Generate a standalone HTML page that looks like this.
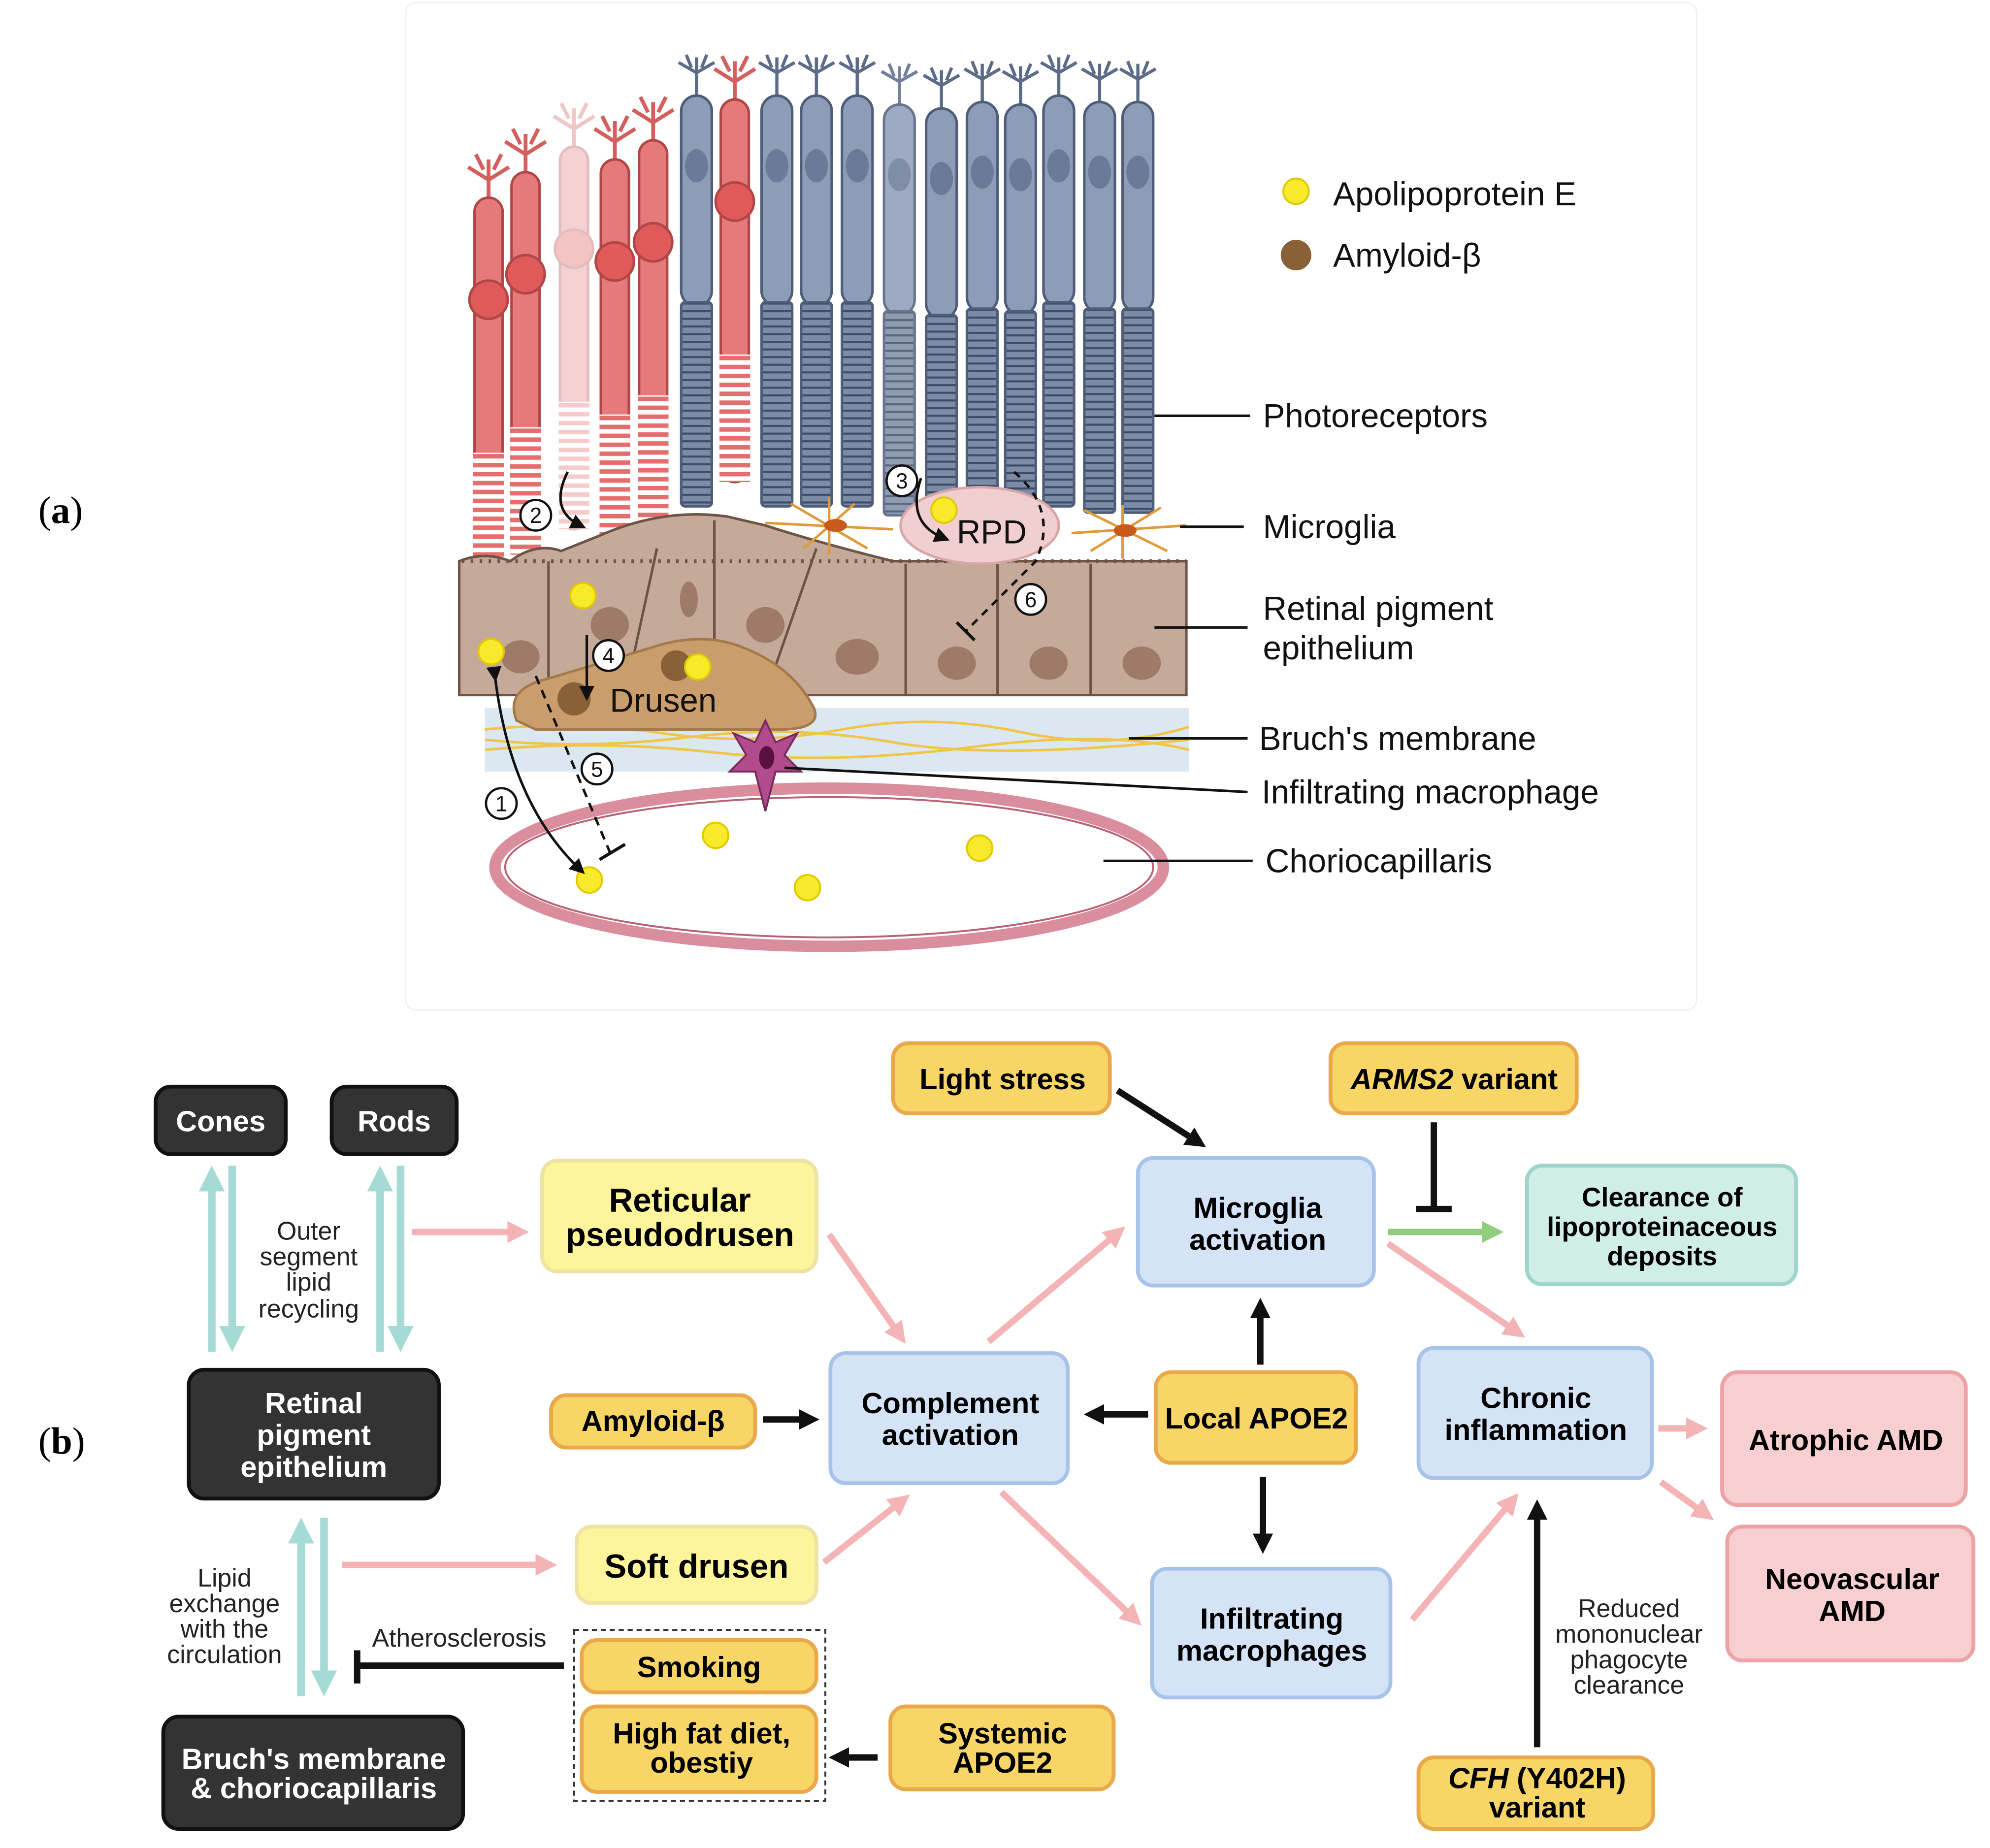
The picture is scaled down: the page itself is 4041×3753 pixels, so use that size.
<!DOCTYPE html>
<html><head><meta charset="utf-8"><style>
html,body{margin:0;padding:0;background:#fff;}
svg{display:block}
text{font-family:"Liberation Sans",Arial,sans-serif;}
.b{font-weight:bold;font-size:23px;text-anchor:middle}
.bw{font-weight:bold;font-size:23px;text-anchor:middle;fill:#fff}
.s{font-size:20px;text-anchor:middle;fill:#222}
.lab{font-size:26px;fill:#111}
</style></head><body>
<svg width="4041" height="3753" viewBox="0 0 1560 1449" preserveAspectRatio="none" xmlns="http://www.w3.org/2000/svg">
<defs>
<pattern id="st" width="6" height="6" patternUnits="userSpaceOnUse"><rect width="6" height="6" fill="#7c8ba6"/><line x1="0" y1="1" x2="6" y2="1" stroke="#3f4c66" stroke-width="1.6"/></pattern>
<pattern id="cs" width="6" height="7" patternUnits="userSpaceOnUse"><rect width="6" height="7" fill="#fff"/><rect y="0" width="6" height="3.5" fill="#e46d6d"/></pattern>
<marker id="mk" viewBox="0 0 10 10" refX="6" refY="5" markerWidth="3.2" markerHeight="3.2" orient="auto-start-reverse"><path d="M0,0L10,5L0,10z" fill="#111"/></marker>
<marker id="mp" viewBox="0 0 10 10" refX="6" refY="5" markerWidth="3.4" markerHeight="3.4" orient="auto-start-reverse"><path d="M0,0L10,5L0,10z" fill="#f4b3b4"/></marker>
<marker id="mt" viewBox="0 0 10 10" refX="6" refY="5" markerWidth="3.4" markerHeight="3.4" orient="auto-start-reverse"><path d="M0,0L10,5L0,10z" fill="#a6dbd5"/></marker>
<marker id="mg" viewBox="0 0 10 10" refX="6" refY="5" markerWidth="3.4" markerHeight="3.4" orient="auto-start-reverse"><path d="M0,0L10,5L0,10z" fill="#8fcc7c"/></marker>
<marker id="ms" viewBox="0 0 10 10" refX="6" refY="5" markerWidth="6" markerHeight="6" orient="auto"><path d="M0,0L10,5L0,10z" fill="#111"/></marker>
<g id="rod">
<path d="M0,0V32M-14,4L0,12L14,4M-8,-2L-4,8M8,-2L4,8" stroke="#5b6b88" stroke-width="2.5" fill="none"/>
<rect x="-12" y="30" width="24" height="165" rx="12" fill="#8d9cb7" stroke="#4f5d78" stroke-width="2"/>
<ellipse cx="0" cy="85" rx="9" ry="13" fill="#6a7a98"/>
<rect x="-12" y="192" width="24" height="160" rx="3" fill="url(#st)" stroke="#4f5d78" stroke-width="2"/>
</g>
<g id="cone">
<path d="M0,0V30M-16,6L0,16L16,6M-10,-4L-4,8M10,-4L4,8" stroke="#d35f5f" stroke-width="3" fill="none"/>
<rect x="-11" y="30" width="22" height="300" rx="11" fill="#e57a7a" stroke="#b04646" stroke-width="2"/>
<circle cx="0" cy="110" r="15" fill="#e05a5a" stroke="#b04646" stroke-width="2"/>
<rect x="-12" y="230" width="24" height="100" fill="url(#cs)"/>
</g>
</defs>
<rect width="1560" height="1449" fill="#fff"/>
<rect x="318" y="2" width="1012" height="790" rx="8" fill="#fff" stroke="#f0f0f0"/>
<text x="30" y="410" style="font-family:'Liberation Serif',serif;font-size:30px">(<tspan font-weight="bold">a</tspan>)</text>
<text x="30" y="1140" style="font-family:'Liberation Serif',serif;font-size:30px">(<tspan font-weight="bold">b</tspan>)</text>

<use href="#cone" x="383" y="125"/>
<use href="#cone" x="412" y="105"/>
<use href="#cone" x="450" y="85" opacity="0.35"/>
<use href="#cone" x="482" y="95"/>
<use href="#cone" x="512" y="80"/>
<use href="#cone" x="576" y="48"/>
<use href="#rod" x="546" y="45"/>
<use href="#rod" x="609" y="45"/>
<use href="#rod" x="640" y="45"/>
<use href="#rod" x="672" y="45"/>
<use href="#rod" x="705" y="52" opacity="0.85"/>
<use href="#rod" x="738" y="55"/>
<use href="#rod" x="770" y="50"/>
<use href="#rod" x="800" y="52"/>
<use href="#rod" x="830" y="45"/>
<use href="#rod" x="862" y="50"/>
<use href="#rod" x="892" y="50"/>

<path d="M360,440 Q380,432 400,440 Q420,425 440,432 L470,420 Q520,398 570,405 L600,412 Q640,425 700,440 L930,440 L930,545 L360,545Z" fill="#c5a999" stroke="#6d5445" stroke-width="2"/>
<path d="M362,440 L930,440" stroke="#6d5445" stroke-width="3" stroke-dasharray="2 5"/>
<g stroke="#6d5445" stroke-width="2" fill="none"><path d="M430,440V545M515,430 L490,545M560,408 L560,545M640,430 L600,545M710,442V545M782,442V545M855,442V545"/></g>
<g fill="#9e7a68"><ellipse cx="408" cy="515" rx="15" ry="13"/><ellipse cx="478" cy="490" rx="15" ry="14"/><ellipse cx="600" cy="490" rx="15" ry="14"/><ellipse cx="672" cy="515" rx="17" ry="14"/><ellipse cx="750" cy="520" rx="15" ry="13"/><ellipse cx="822" cy="520" rx="15" ry="13"/><ellipse cx="895" cy="520" rx="15" ry="13"/><ellipse cx="540" cy="470" rx="7" ry="14"/></g>
<rect x="380" y="555" width="552" height="50" fill="#dce8f1"/>
<g stroke="#f0c64a" stroke-width="2" fill="none"><path d="M380,572 Q450,565 520,575 T660,572 T800,574 T932,570"/><path d="M380,580 Q460,588 540,578 T700,582 T932,580"/><path d="M380,588 Q470,580 560,590 T760,586 T932,588"/></g>
<path d="M405,565 Q395,540 430,532 Q470,520 510,508 Q545,496 575,505 Q620,520 638,555 Q645,572 610,572 L420,572Z" fill="#c99d6c" stroke="#a57a4a" stroke-width="2"/>
<circle cx="450" cy="548" r="13" fill="#8a6038"/><circle cx="530" cy="522" r="12" fill="#8a6038"/>
<text x="478" y="558" style="font-size:26px;fill:#111">Drusen</text>
<ellipse cx="768" cy="412" rx="62" ry="30" fill="#f1cfd1" stroke="#d9a6a8" stroke-width="2"/>
<text x="750" y="426" style="font-size:26px;fill:#111">RPD</text>
<g stroke="#e09a3c" stroke-width="2" fill="none"><path d="M600,410 L700,415 M620,395 L680,430 M630,430 L670,395 M650,390 V435"/><path d="M840,418 L930,412 M850,400 L915,432 M855,432 L910,398 M880,396 V438"/></g>
<ellipse cx="655" cy="412" rx="9" ry="5" fill="#c85a1a"/><ellipse cx="882" cy="416" rx="9" ry="5" fill="#c85a1a"/>
<ellipse cx="650" cy="680" rx="262" ry="62" fill="#fff" stroke="#d98d9d" stroke-width="9"/>
<ellipse cx="650" cy="680" rx="254" ry="55" fill="none" stroke="#b96275" stroke-width="1.5"/>
<path d="M600,565 L608,582 L625,575 L615,592 L628,605 L608,605 L600,636 L592,605 L572,605 L585,592 L575,575 L592,582Z" fill="#b04c8c" stroke="#7a2860" stroke-width="1.5"/>
<ellipse cx="601" cy="594" rx="6" ry="9" fill="#5a1040"/>
<g fill="#f7ea2a" stroke="#e2c800" stroke-width="1.5"><circle cx="385" cy="511" r="10"/><circle cx="457" cy="467" r="10"/><circle cx="547" cy="523" r="10"/><circle cx="740" cy="400" r="10"/><circle cx="462" cy="690" r="10"/><circle cx="561" cy="655" r="10"/><circle cx="633" cy="696" r="10"/><circle cx="768" cy="665" r="10"/><circle cx="1016" cy="150" r="10"/></g>
<circle cx="1016" cy="200" r="12" fill="#8a6038"/>
<text x="1045" y="161" class="lab">Apolipoprotein E</text>
<text x="1045" y="209" class="lab">Amyloid-β</text>
<path d="M388,530 Q400,630 455,682" stroke="#111" stroke-width="2" fill="none" marker-start="url(#ms)" marker-end="url(#ms)"/>
<path d="M420,530 L478,668" stroke="#111" stroke-width="2" stroke-dasharray="7 5" fill="none"/><path d="M470,674 L490,662" stroke="#111" stroke-width="2.5"/>
<path d="M460,498 V545" stroke="#111" stroke-width="2" marker-end="url(#ms)"/>
<path d="M445,370 Q430,400 455,412" stroke="#111" stroke-width="2" fill="none" marker-end="url(#ms)"/>
<path d="M722,375 Q710,410 740,422" stroke="#111" stroke-width="2" fill="none" marker-end="url(#ms)"/>
<path d="M795,370 Q830,400 812,440 L757,495" stroke="#111" stroke-width="2" stroke-dasharray="6 5" fill="none"/><path d="M750,488 L764,502" stroke="#111" stroke-width="2.5"/>
<g fill="#fff" stroke="#111" stroke-width="1.8"><circle cx="393" cy="630" r="12"/><circle cx="420" cy="404" r="12"/><circle cx="707" cy="377" r="12"/><circle cx="477" cy="514" r="12"/><circle cx="468" cy="603" r="12"/><circle cx="808" cy="470" r="12"/></g>
<g style="font-size:17px;text-anchor:middle;fill:#111"><text x="393" y="636">1</text><text x="420" y="410">2</text><text x="707" y="383">3</text><text x="477" y="520">4</text><text x="468" y="609">5</text><text x="808" y="476">6</text></g>
<g stroke="#111" stroke-width="2"><path d="M905,326H980M925,413H975M905,492H978M885,579H978M615,602L978,621M865,675H982"/></g>
<text x="990" y="335" class="lab">Photoreceptors</text>
<text x="990" y="422" class="lab">Microglia</text>
<text x="990" y="486" class="lab">Retinal pigment</text>
<text x="990" y="517" class="lab">epithelium</text>
<text x="987" y="588" class="lab">Bruch's membrane</text>
<text x="989" y="630" class="lab">Infiltrating macrophage</text>
<text x="992" y="684" class="lab">Choriocapillaris</text>

<g stroke="#a6dbd5" stroke-width="6" fill="none">
<line x1="166" y1="1060" x2="166" y2="922" marker-end="url(#mt)"/><line x1="182" y1="914" x2="182" y2="1052" marker-end="url(#mt)"/>
<line x1="298" y1="1060" x2="298" y2="922" marker-end="url(#mt)"/><line x1="314" y1="914" x2="314" y2="1052" marker-end="url(#mt)"/>
<line x1="236" y1="1330" x2="236" y2="1198" marker-end="url(#mt)"/><line x1="254" y1="1190" x2="254" y2="1322" marker-end="url(#mt)"/>
</g>
<g stroke="#f4b3b4" stroke-width="5" fill="none">
<line x1="323" y1="966" x2="408" y2="966" marker-end="url(#mp)"/>
<line x1="268" y1="1227" x2="430" y2="1227" marker-end="url(#mp)"/>
<line x1="650" y1="968" x2="706" y2="1048" marker-end="url(#mp)"/>
<line x1="646" y1="1225" x2="708" y2="1176" marker-end="url(#mp)"/>
<line x1="775" y1="1052" x2="877" y2="966" marker-end="url(#mp)"/>
<line x1="785" y1="1170" x2="890" y2="1270" marker-end="url(#mp)"/>
<line x1="1088" y1="975" x2="1190" y2="1045" marker-end="url(#mp)"/>
<line x1="1107" y1="1270" x2="1186" y2="1176" marker-end="url(#mp)"/>
<line x1="1300" y1="1120" x2="1332" y2="1120" marker-end="url(#mp)"/>
<line x1="1302" y1="1162" x2="1338" y2="1188" marker-end="url(#mp)"/>
</g>
<line x1="1088" y1="966" x2="1172" y2="966" stroke="#8fcc7c" stroke-width="5" marker-end="url(#mg)"/>
<g stroke="#111" stroke-width="5" fill="none">
<line x1="876" y1="855" x2="940" y2="896" marker-end="url(#mk)"/>
<line x1="988" y1="1070" x2="988" y2="1024" marker-end="url(#mk)"/>
<line x1="900" y1="1109" x2="856" y2="1109" marker-end="url(#mk)"/>
<line x1="598" y1="1113" x2="636" y2="1113" marker-end="url(#mk)"/>
<line x1="990" y1="1158" x2="990" y2="1212" marker-end="url(#mk)"/>
<line x1="688" y1="1378" x2="656" y2="1378" marker-end="url(#mk)"/>
<line x1="1205" y1="1370" x2="1205" y2="1182" marker-end="url(#mk)"/>
<path d="M1124,880V948M1110,948H1138"/>
<path d="M442,1306H280M280,1294V1320"/>
</g>
<text x="360" y="1291" class="s">Atherosclerosis</text>
<g class="s"><text x="242" y="972" class="s">Outer</text><text x="242" y="992" class="s">segment</text><text x="242" y="1012" class="s">lipid</text><text x="242" y="1033" class="s">recycling</text>
<text x="176" y="1244" class="s">Lipid</text><text x="176" y="1264" class="s">exchange</text><text x="176" y="1284" class="s">with the</text><text x="176" y="1304" class="s">circulation</text>
<text x="1277" y="1268" class="s">Reduced</text><text x="1277" y="1288" class="s">mononuclear</text><text x="1277" y="1308" class="s">phagocyte</text><text x="1277" y="1328" class="s">clearance</text></g>

<g fill="#333" stroke="#111" stroke-width="3">
<rect x="122" y="852" width="102" height="53" rx="12"/><rect x="260" y="852" width="98" height="53" rx="12"/>
<rect x="148" y="1074" width="196" height="101" rx="12"/><rect x="128" y="1346" width="235" height="88" rx="12"/>
</g>
<text x="173" y="887" class="bw">Cones</text><text x="309" y="887" class="bw">Rods</text>
<text x="246" y="1108" class="bw">Retinal</text><text x="246" y="1133" class="bw">pigment</text><text x="246" y="1158" class="bw">epithelium</text>
<text x="246" y="1387" class="bw">Bruch's membrane</text><text x="246" y="1410" class="bw">&amp; choriocapillaris</text>

<g fill="#fdf49b" stroke="#ece3a4" stroke-width="3">
<rect x="425" y="910" width="215" height="87" rx="12"/><rect x="452" y="1197" width="188" height="60" rx="12"/>
</g>
<text x="533" y="950" class="b" style="font-size:26px">Reticular</text><text x="533" y="977" class="b" style="font-size:26px">pseudodrusen</text>
<text x="546" y="1237" class="b" style="font-size:26px">Soft drusen</text>

<rect x="450" y="1278" width="197" height="134" fill="none" stroke="#333" stroke-width="1.5" stroke-dasharray="4 3"/>
<g fill="#f8d567" stroke="#e9a84a" stroke-width="3">
<rect x="432" y="1094" width="160" height="41" rx="12"/><rect x="906" y="1076" width="157" height="71" rx="12"/>
<rect x="700" y="818" width="170" height="55" rx="12"/><rect x="1043" y="818" width="193" height="55" rx="12"/>
<rect x="456" y="1286" width="184" height="41" rx="12"/><rect x="456" y="1338" width="184" height="67" rx="12"/>
<rect x="698" y="1338" width="175" height="65" rx="12"/><rect x="1112" y="1378" width="184" height="56" rx="12"/>
</g>
<text x="512" y="1122" class="b">Amyloid-β</text>
<text x="985" y="1120" class="b">Local APOE2</text>
<text x="786" y="854" class="b">Light stress</text>
<text x="1140" y="854" class="b"><tspan font-style="italic">ARMS2</tspan> variant</text>
<text x="548" y="1315" class="b">Smoking</text>
<text x="550" y="1367" class="b">High fat diet,</text><text x="550" y="1390" class="b">obestiy</text>
<text x="786" y="1367" class="b">Systemic</text><text x="786" y="1390" class="b">APOE2</text>
<text x="1205" y="1402" class="b"><tspan font-style="italic">CFH</tspan> (Y402H)</text><text x="1205" y="1425" class="b">variant</text>

<g fill="#d5e3f6" stroke="#a8c3ea" stroke-width="3">
<rect x="892" y="908" width="185" height="100" rx="12"/><rect x="651" y="1061" width="186" height="102" rx="12"/>
<rect x="903" y="1230" width="187" height="101" rx="12"/><rect x="1112" y="1057" width="183" height="102" rx="12"/>
</g>
<text x="986" y="955" class="b">Microglia</text><text x="986" y="980" class="b">activation</text>
<text x="745" y="1108" class="b">Complement</text><text x="745" y="1133" class="b">activation</text>
<text x="997" y="1277" class="b">Infiltrating</text><text x="997" y="1302" class="b">macrophages</text>
<text x="1204" y="1104" class="b">Chronic</text><text x="1204" y="1129" class="b">inflammation</text>
<rect x="1197" y="914" width="211" height="93" rx="12" fill="#d0eee7" stroke="#9dd6c9" stroke-width="3"/>
<text x="1303" y="946" class="b" style="font-size:21px">Clearance of</text><text x="1303" y="969" class="b" style="font-size:21px">lipoproteinaceous</text><text x="1303" y="992" class="b" style="font-size:21px">deposits</text>
<g fill="#f7cfd1" stroke="#eda3a6" stroke-width="3">
<rect x="1350" y="1076" width="191" height="104" rx="12"/><rect x="1354" y="1197" width="193" height="105" rx="12"/>
</g>
<text x="1447" y="1137" class="b">Atrophic AMD</text>
<text x="1452" y="1246" class="b">Neovascular</text><text x="1452" y="1271" class="b">AMD</text>
</svg>
</body></html>
